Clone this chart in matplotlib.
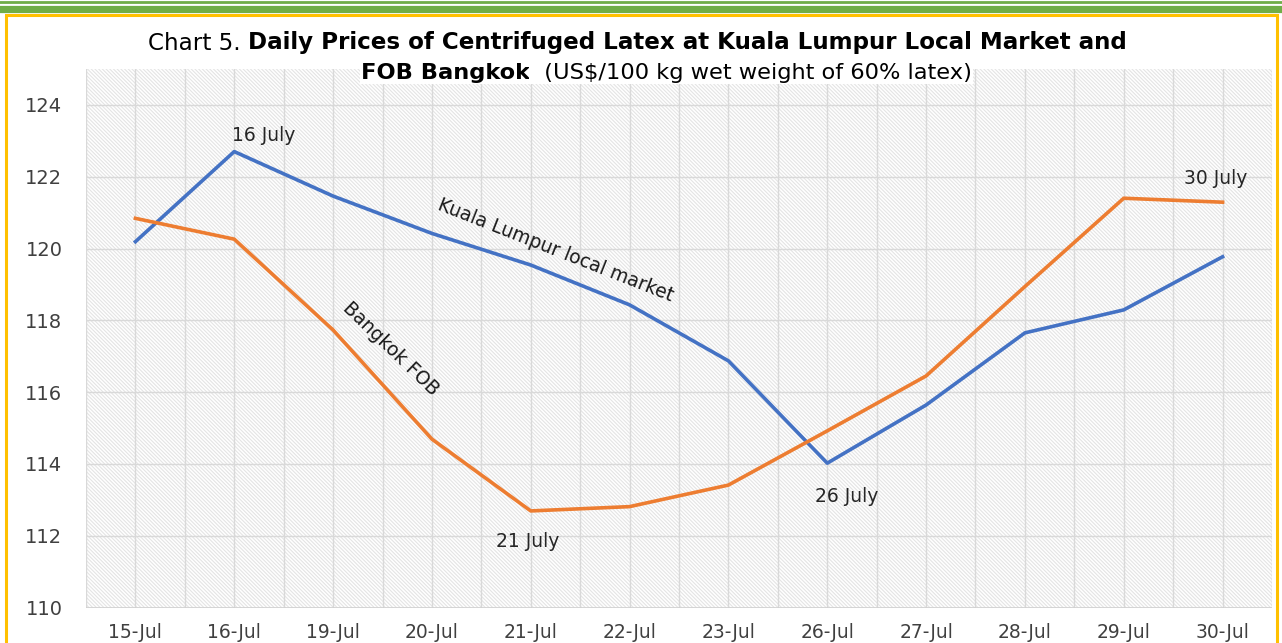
import matplotlib
matplotlib.use("Agg")
import matplotlib.pyplot as plt
from matplotlib.patches import Rectangle
from matplotlib.lines import Line2D

# Datos
fechas = ["15-Jul", "16-Jul", "19-Jul", "20-Jul", "21-Jul", "22-Jul",
          "23-Jul", "26-Jul", "27-Jul", "28-Jul", "29-Jul", "30-Jul"]
kuala_lumpur = [120.19, 122.70, 121.46, 120.42, 119.54, 118.43,
                116.87, 114.02, 115.64, 117.65, 118.29, 119.77]
bangkok_fob = [120.84, 120.26, 117.73, 114.69, 112.69, 112.81,
               113.41, 114.92, 116.45, 118.94, 121.40, 121.29]
y_ticks = [110, 112, 114, 116, 118, 120, 122, 124]

AZUL = "#4472C4"
NARANJA = "#ED7D31"
TEXTO = "#404040"

plt.rcParams['font.family'] = ['DejaVu Sans']
plt.rcParams['hatch.linewidth'] = 0.8

W, H = 1282, 643
fig = plt.figure(figsize=(W / 100, H / 100), dpi=100)
fig.patch.set_facecolor("white")

def fy(p):
    return 1 - p / H

def fx(p):
    return p / W

# marco y lineas verdes de arriba
fig.add_artist(Line2D([0, 1], [fy(1.5), fy(1.5)], color="#70AD47", lw=2.0))
fig.add_artist(Line2D([0, 1], [fy(8.7), fy(8.7)], color="#70AD47", lw=5.2))
fig.add_artist(Rectangle((fx(5.5), -0.05), fx(1276.5) - fx(5.5), fy(14.5) + 0.05,
                         transform=fig.transFigure, fill=False,
                         edgecolor="#FFC000", lw=2.2))

left, right, top, bottom = 86, 1272, 69, 607.5
ax = fig.add_axes([fx(left), fy(bottom), fx(right) - fx(left), (bottom - top) / H])
ax.set_facecolor("white")
ax.add_patch(Rectangle((0, 0), 1, 1, transform=ax.transAxes, fill=False,
                       hatch="\\" * 9, edgecolor="#e4e4e4", lw=0, zorder=0))

x = list(range(len(fechas)))
ax.plot(x, kuala_lumpur, color=AZUL, lw=2.6, zorder=3)
ax.plot(x, bangkok_fob, color=NARANJA, lw=2.6, zorder=3)

ax.set_xlim(-0.49, 11.45)
ax.set_ylim(110, 125)
ax.set_yticks(y_ticks)
ax.set_xticks(x)
ax.set_xticklabels(fechas)
ax.set_xticks([i + 0.5 for i in range(-1, 12)], minor=True)
ax.grid(True, which="both", axis="x", color="#d9d9d9", lw=1, zorder=1)
ax.grid(True, which="major", axis="y", color="#d9d9d9", lw=1, zorder=1)
ax.tick_params(axis="both", which="both", length=0, labelsize=13.5, colors=TEXTO)
ax.tick_params(axis="x", pad=11)
ax.tick_params(axis="y", labelsize=14, pad=17)
for s in ax.spines.values():
    s.set_visible(False)
ax.axhline(110, color="#d0d0d0", lw=1.2, zorder=2)

# etiquetas en el grafico
kw = dict(fontsize=13.5, color="#262626", ha="center", va="center")
ax.text(1.3, 123.15, "16 July", **kw)
ax.text(3.97, 111.85, "21 July", **kw)
ax.text(7.2, 113.1, "26 July", **kw)
ax.text(10.93, 121.95, "30 July", **kw)
ax.text(4.25, 119.95, "Kuala Lumpur local market", fontsize=13.5, color="#1a1a1a",
        ha="center", va="center", rotation=-21.5, rotation_mode="anchor")
ax.text(2.58, 117.2, "Bangkok FOB", fontsize=13.5, color="#1a1a1a",
        ha="center", va="center", rotation=-44, rotation_mode="anchor")

# titulo en dos lineas con partes en negrita
renderer = fig.canvas.get_renderer()

def linea(piezas, x0, x1, yc, size, fondo=False):
    # primero se mide para ajustar el ancho total
    total = 0
    for txt, peso in piezas:
        t = fig.text(0, 0, txt, fontsize=size, fontweight=peso)
        total += t.get_window_extent(renderer).width
        t.remove()
    size = size * (x1 - x0) / total
    xp = x0
    for txt, peso in piezas:
        t = fig.text(fx(xp), fy(yc), txt, fontsize=size, fontweight=peso,
                     color="black", ha="left", va="center", zorder=5)
        if fondo:
            t.set_bbox(dict(facecolor="white", edgecolor="none", pad=1))
        xp += t.get_window_extent(renderer).width

linea([("Chart 5. ", "normal"),
       ("Daily Prices of Centrifuged Latex at Kuala Lumpur Local Market and", "bold")],
      148, 1132, 43, 14)
linea([("FOB Bangkok", "bold"),
       ("  (US$/100 kg wet weight of 60% latex)", "normal")],
      361, 972, 73, 14, fondo=True)

fig.savefig("out.png", dpi=100)
